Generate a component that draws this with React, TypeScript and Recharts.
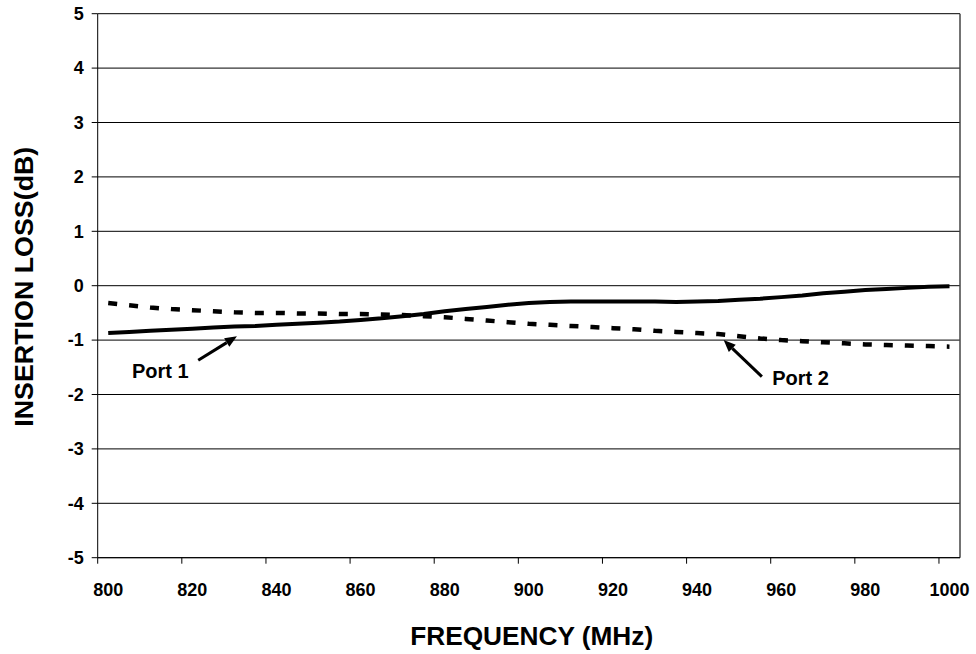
import { LineChart, Line, XAxis, YAxis, CartesianGrid, ReferenceLine, ReferenceDot } from 'recharts'

// frequency points (MHz), every 5 MHz
const freq = [
  800, 805, 810, 815, 820, 825, 830, 835, 840, 845, 850, 855, 860, 865, 870, 875, 880, 885, 890, 895, 900,
  905, 910, 915, 920, 925, 930, 935, 940, 945, 950, 955, 960, 965, 970, 975, 980, 985, 990, 995, 1000,
]

const port1 = [
  -0.87, -0.85, -0.83, -0.81, -0.79, -0.77, -0.75, -0.74, -0.72, -0.7, -0.68, -0.66, -0.63, -0.6, -0.56, -0.52,
  -0.47, -0.43, -0.39, -0.35, -0.32, -0.3, -0.29, -0.29, -0.29, -0.29, -0.29, -0.3, -0.29, -0.28, -0.26, -0.24,
  -0.21, -0.18, -0.14, -0.11, -0.08, -0.06, -0.04, -0.02, -0.01,
]

const port2 = [
  -0.32, -0.36, -0.4, -0.43, -0.45, -0.47, -0.49, -0.5, -0.5, -0.51, -0.51, -0.52, -0.52, -0.53, -0.54, -0.56,
  -0.58, -0.61, -0.64, -0.67, -0.7, -0.72, -0.74, -0.76, -0.78, -0.8, -0.83, -0.85, -0.87, -0.89, -0.93, -0.97,
  -1.0, -1.02, -1.04, -1.06, -1.08, -1.09, -1.1, -1.11, -1.12,
]

const xLabels = [800, 820, 840, 860, 880, 900, 920, 940, 960, 980, 1000]
const yTicks = [-5, -4, -3, -2, -1, 0, 1, 2, 3, 4, 5]

const data = freq.map((f, i) => ({ f, port1: port1[i], port2: port2[i] }))

const W = 976
const H = 654
const PLOT_L = 97.7
const PLOT_R = 960
const PLOT_T = 13.7
const PLOT_B = 557.7
const X_MIN = 797.5
const X_MAX = 1002.5
// ticks sit on category boundaries, half a step left of the labels
const HALF = (2.5 * (PLOT_R - PLOT_L)) / (X_MAX - X_MIN)
const FONT = '"Liberation Sans", Arial, sans-serif'

function XTick(props: any) {
  const { x, payload } = props
  return (
    <g>
      <line x1={x - HALF} x2={x - HALF} y1={PLOT_B} y2={PLOT_B + 6} stroke="#000" strokeWidth={1} />
      <text x={x} y={PLOT_B + 38} textAnchor="middle" fontFamily={FONT} fontWeight="bold" fontSize={18} fill="#000">
        {payload.value}
      </text>
    </g>
  )
}

function Arrow(p: any) {
  const { x1, y1, x2, y2 } = p
  const a = Math.atan2(y2 - y1, x2 - x1)
  const len = 12
  const w = 5
  const bx = x2 - len * Math.cos(a)
  const by = y2 - len * Math.sin(a)
  const pts = [
    [x2, y2],
    [bx - w * Math.sin(a), by + w * Math.cos(a)],
    [bx + w * Math.sin(a), by - w * Math.cos(a)],
  ]
  return (
    <g>
      <line x1={x1} y1={y1} x2={bx} y2={by} stroke="#000" strokeWidth={3} />
      <polygon points={pts.map((q) => q.join(',')).join(' ')} fill="#000" />
    </g>
  )
}

const labelStyle = { fontFamily: FONT, fontWeight: 'bold' as const, fontSize: 20, fill: '#000' }

export default function App() {
  return (
    <div style={{ position: 'absolute', left: 0, top: 0, width: W, height: H, background: '#fff' }}>
      <LineChart
        width={W}
        height={H}
        data={data}
        margin={{ top: PLOT_T, right: W - PLOT_R, left: PLOT_L - 80, bottom: H - PLOT_B - 60 }}
      >
        <CartesianGrid vertical={false} stroke="#000" strokeWidth={1} />
        <XAxis
          dataKey="f"
          type="number"
          domain={[X_MIN, X_MAX]}
          ticks={xLabels}
          interval={0}
          height={60}
          axisLine={{ stroke: '#000' }}
          tickLine={false}
          tick={<XTick />}
          allowDataOverflow
        />
        <YAxis
          type="number"
          domain={[-5, 5]}
          ticks={yTicks}
          interval={0}
          width={80}
          axisLine={{ stroke: '#000' }}
          tickLine={{ stroke: '#000' }}
          tickSize={6}
          tickMargin={8}
          tick={{ fontFamily: FONT, fontWeight: 'bold', fontSize: 18, fill: '#000' }}
        />
        <ReferenceLine x={X_MAX} stroke="#444" strokeWidth={1.5} />
        <Line
          dataKey="port1"
          stroke="#000"
          strokeWidth={4}
          dot={false}
          activeDot={false}
          type="linear"
          isAnimationActive={false}
        />
        <Line
          dataKey="port2"
          stroke="#000"
          strokeWidth={4.5}
          strokeDasharray="9 12"
          dot={false}
          activeDot={false}
          type="linear"
          isAnimationActive={false}
        />
        <ReferenceLine
          segment={[
            { x: 821.4, y: -1.37 },
            { x: 830.6, y: -0.93 },
          ]}
          shape={Arrow}
        />
        <ReferenceLine
          segment={[
            { x: 955.4, y: -1.67 },
            { x: 946.3, y: -1.0 },
          ]}
          shape={Arrow}
        />
        <ReferenceDot x={812.4} y={-1.57} r={1} fill="none" stroke="none" label={{ value: 'Port 1', position: 'center', ...labelStyle }} />
        <ReferenceDot x={964.6} y={-1.7} r={1} fill="none" stroke="none" label={{ value: 'Port 2', position: 'center', ...labelStyle }} />
      </LineChart>
      <svg width={W} height={H} style={{ position: 'absolute', left: 0, top: 0, pointerEvents: 'none' }}>
        <text x={531.7} y={645} textAnchor="middle" fontFamily={FONT} fontWeight="bold" fontSize={25} textLength={243} lengthAdjust="spacingAndGlyphs" fill="#000">
          FREQUENCY (MHz)
        </text>
        <text
          x={32.7}
          y={286.7}
          textAnchor="middle"
          transform="rotate(-90, 32.7, 286.7)"
          fontFamily={FONT}
          fontWeight="bold"
          fontSize={26}
          textLength={280}
          lengthAdjust="spacingAndGlyphs"
          fill="#000"
        >
          INSERTION LOSS(dB)
        </text>
      </svg>
    </div>
  )
}
